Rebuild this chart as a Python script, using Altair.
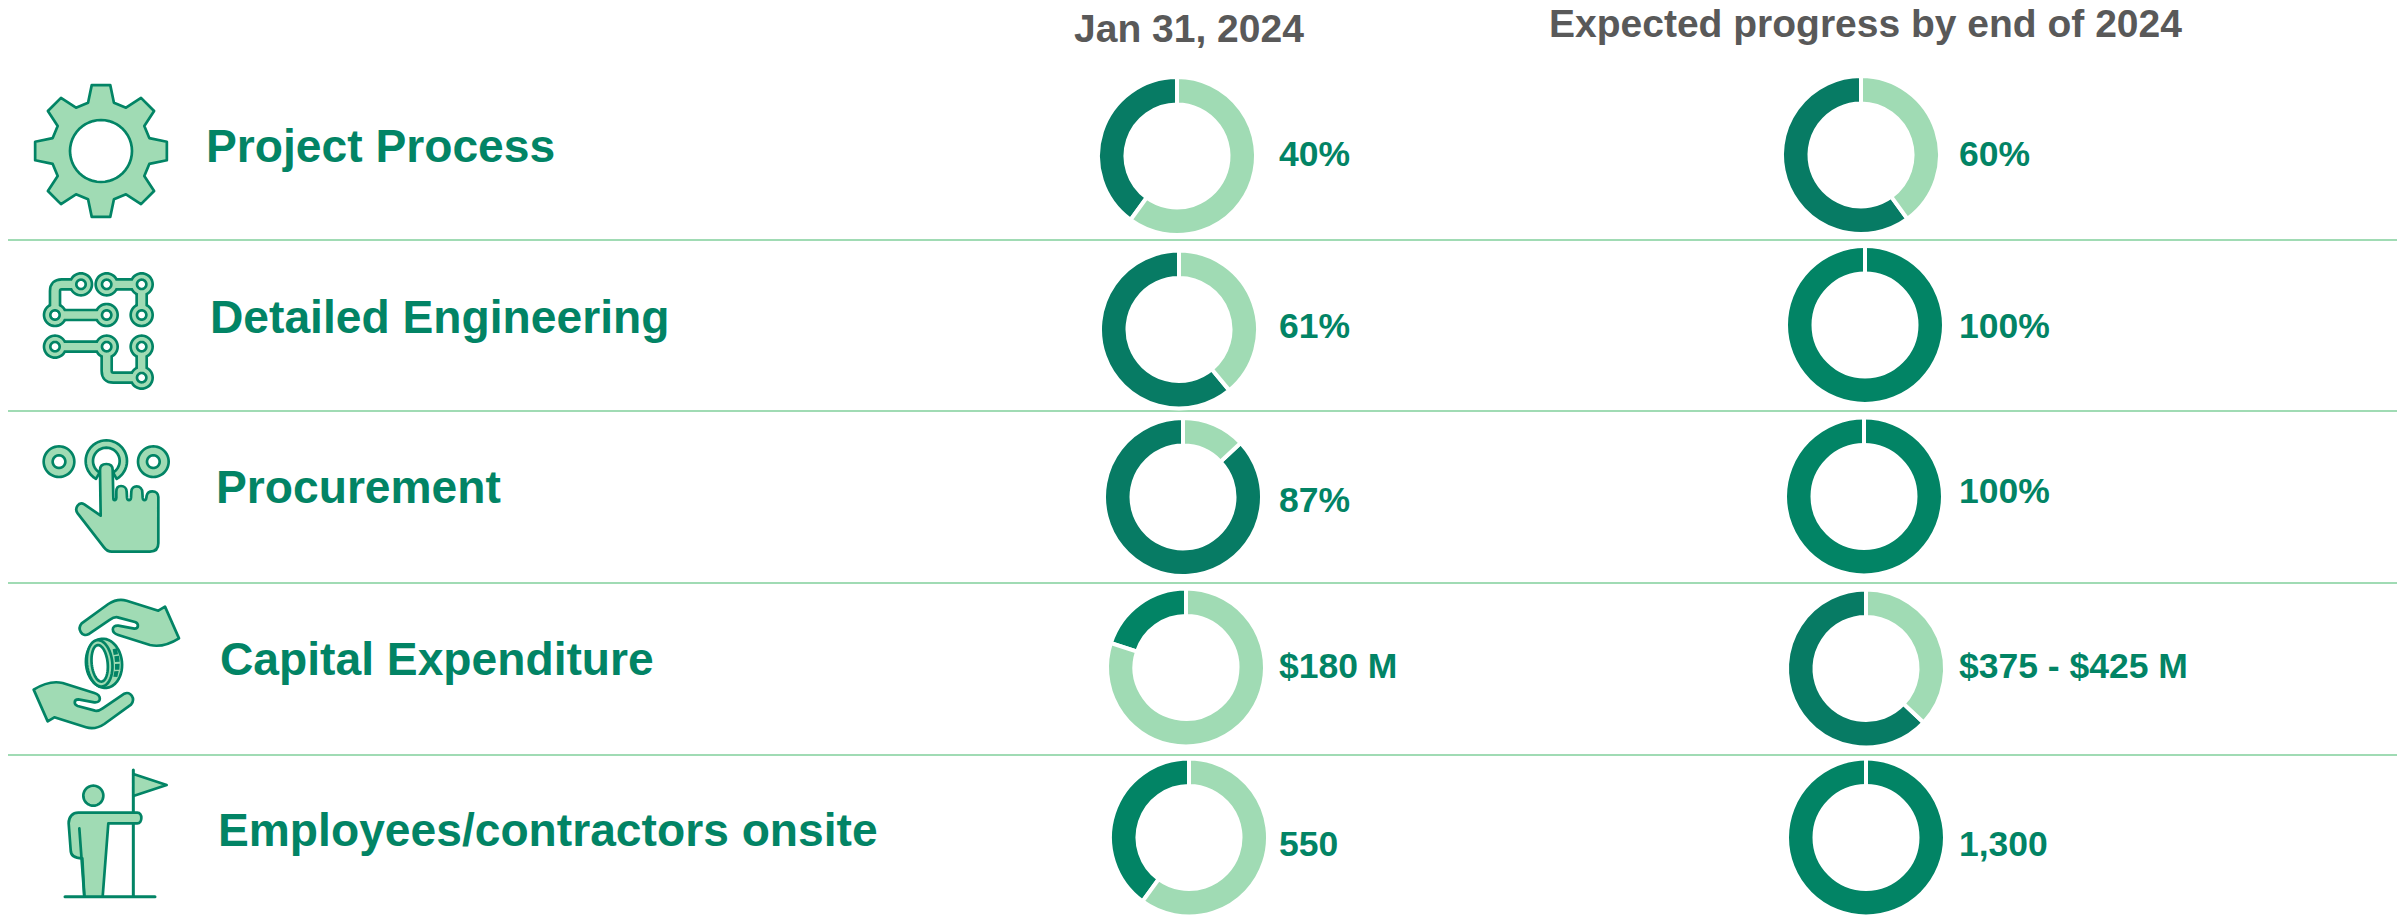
import re
import math
import altair as alt
import pandas as pd

# ---------- values ----------
rows = ["Project Process", "Detailed Engineering", "Procurement", "Capital Expenditure", "Employees/contractors onsite"]
jan_done = [40, 61, 87, 20, 40]
end_done = [60, 100, 100, 63, 100]
jan_tone = ["deep", "deep", "deep", "bright", "bright"]
end_tone = ["deep", "bright", "bright", "deep", "bright"]
jan_labels = ["40%", "61%", "87%", "$180 M", "550"]
end_labels = ["60%", "100%", "100%", "$375 - $425 M", "1,300"]
headers = ["Jan 31, 2024", "Expected progress by end of 2024"]

# ---------- layout (page pixels) ----------
W, H = 2389, 907
row_label_x = [206, 210, 216, 220, 218]
row_label_y = [162, 333, 503, 675, 846]
jan_cx = [1177, 1179, 1183, 1186, 1189]
jan_cy = [156, 329.5, 497, 667.5, 837.5]
end_cx = [1861, 1865, 1864, 1866, 1866]
end_cy = [155, 325, 496.5, 668.5, 837.5]
jan_label_x = [1279, 1279, 1279, 1279, 1279]
jan_label_y = [166, 338, 512, 678, 856]
end_label_x = [1959, 1959, 1959, 1959, 1959]
end_label_y = [166, 338, 503, 678, 856]
header_x = [1074, 1549]
header_y = [42, 36.5]
divider_y = [240, 411, 583, 755]

LIGHT, DARK, GREEN, GREY = "#A0DBB4", "#077B64", "#028465", "#595959"
FONT = "Liberation Sans"

xs = alt.Scale(domain=[8, 8 + W], range=[0, W])
ys = alt.Scale(domain=[8, 8 + H], range=[0, H])


# ---------- icon path helpers ----------
def P(ox, oy, s, k=3.0):
    """Map a path written in zoom-crop units to page pixels (x, y alternate)."""
    i = [0]

    def rep(m):
        v = float(m.group(0))
        r = (ox if i[0] % 2 == 0 else oy) + v / k
        i[0] += 1
        return f"{r:.2f}"

    return re.sub(r"-?\d+\.?\d*", rep, s)


def ell(cx, cy, rx, ry=None, tilt=0.0, rev=False):
    ry = rx if ry is None else ry
    n = 48
    t = math.radians(tilt)
    pts = []
    for j in range(n):
        a = 2 * math.pi * j / n * (-1 if rev else 1)
        px, py = rx * math.cos(a), ry * math.sin(a)
        pts.append((cx + px * math.cos(t) - py * math.sin(t), cy + px * math.sin(t) + py * math.cos(t)))
    return "M " + " L ".join(f"{a:.2f} {b:.2f}" for a, b in pts) + " Z"


def ring_arc(cx, cy, r0, r1, a0, a1):
    n = 40
    pts = []
    for j in range(n + 1):
        a = math.radians(a0 + (a1 - a0) * j / n)
        pts.append((cx + r1 * math.cos(a), cy + r1 * math.sin(a)))
    for j in range(n, -1, -1):
        a = math.radians(a0 + (a1 - a0) * j / n)
        pts.append((cx + r0 * math.cos(a), cy + r0 * math.sin(a)))
    return "M " + " L ".join(f"{a:.2f} {b:.2f}" for a, b in pts) + " Z"


def gear(cx, cy, rb, rt, rh):
    pts = []
    for k in range(8):
        c = -90 + 45 * k
        for off, r in ((-15, rb), (-8, rt), (8, rt), (15, rb)):
            a = math.radians(c + off)
            pts.append((cx + r * math.cos(a), cy + r * math.sin(a)))
    return "M " + " L ".join(f"{a:.2f} {b:.2f}" for a, b in pts) + " Z " + ell(cx, cy, rh, rev=True)


def icon(path, fill=None, stroke=None, sw=2.7):
    kw = dict(shape=path, size=4, opacity=1, strokeJoin="round", strokeCap="round")
    if fill:
        kw.update(filled=True, fill=fill)
    else:
        kw.update(filled=False, fill="transparent")
    if stroke:
        kw.update(stroke=stroke, strokeWidth=sw)
    else:
        kw.update(strokeWidth=0)
    return alt.Chart(pd.DataFrame({"i": [0]})).mark_point(**kw).encode(x=alt.value(-8), y=alt.value(-8))


icons = []
# gear
icons.append(icon(P(0, 0, gear(101, 151, 50, 66.5, 31), 1.0), LIGHT, GREEN))

# circuit
c_o = (35, 265)
c_nodes = [(138, 58), (215, 58), (320, 58), (60, 150), (215, 150), (320, 150), (60, 245), (215, 245), (320, 245), (320, 338)]
c_tr = ("M 138 58 L 80 58 Q 60 58 60 78 L 60 150 L 215 150 "
        "M 215 58 L 300 58 Q 320 58 320 78 L 320 150 "
        "M 60 245 L 195 245 Q 215 245 215 265 L 215 318 Q 215 338 235 338 L 320 338 "
        "M 320 245 L 320 338")


def nodes(r):
    return " ".join(ell(a, b, r) for a, b in c_nodes)


icons += [
    icon(P(*c_o, c_tr), None, GREEN, 12.7),
    icon(P(*c_o, nodes(37)), GREEN),
    icon(P(*c_o, c_tr), None, LIGHT, 7.4),
    icon(P(*c_o, nodes(29)), LIGHT),
    icon(P(*c_o, nodes(18)), GREEN),
    icon(P(*c_o, nodes(10)), "#FFFFFF"),
]

# pointing hand
h_o = (30, 425)
side = [(87, 110), (370, 110)]
hand = ("M 210 135 C 210 123 218 117 229 117 C 240 117 248 123 248 135 L 250 218 C 250 228 258 228 259 218 L 259 200 "
        "C 259 188 265 183 273 183 C 283 183 290 190 290 200 L 291 218 C 292 228 302 228 303 218 L 304 200 "
        "C 304 190 312 184 320 184 C 330 184 337 192 337 202 L 338 218 C 339 228 348 228 349 218 L 350 212 "
        "C 352 204 358 199 367 199 C 378 199 385 207 385 216 L 385 355 C 385 372 375 380 360 380 L 245 380 "
        "C 235 380 229 376 222 367 L 143 265 C 132 250 146 228 163 238 L 212 272 Z")
icons += [
    icon(P(*h_o, " ".join(ell(a, b, 50) for a, b in side)), GREEN),
    icon(P(*h_o, " ".join(ell(a, b, 42) for a, b in side)), LIGHT),
    icon(P(*h_o, " ".join(ell(a, b, 23) for a, b in side)), GREEN),
    icon(P(*h_o, " ".join(ell(a, b, 15) for a, b in side)), "#FFFFFF"),
    icon(P(*h_o, ring_arc(229, 108, 40, 62, 120, 420)), LIGHT, GREEN),
    icon(P(*h_o, hand), LIGHT, GREEN),
]

# hands and coin
m_o = (25, 590)
upper = ("M 420 50 L 462 145 C 430 165 405 172 375 165 L 280 135 C 258 128 258 105 280 107 L 328 116 "
         "C 342 116 342 100 330 96 L 278 82 C 268 80 262 84 255 89 L 190 133 C 172 142 155 118 170 100 "
         "L 250 42 C 268 30 285 26 305 32 L 400 62 Z")


def rotate180(s, sx=488, sy=444):
    i = [0]

    def rep(m):
        v = float(m.group(0))
        r = (sx if i[0] % 2 == 0 else sy) - v
        i[0] += 1
        return f"{r:.2f}"

    return re.sub(r"-?\d+\.?\d*", rep, s)


squares = ("M 263 178 L 276 175 L 279 193 L 266 195 Z M 268 199 L 282 197 L 284 215 L 270 216 Z "
           "M 270 222 L 284 221 L 283 239 L 270 239 Z M 268 244 L 281 243 L 277 261 L 265 260 Z")
icons += [
    icon(P(*m_o, upper), LIGHT, GREEN),
    icon(P(*m_o, rotate180(upper)), LIGHT, GREEN),
    icon(P(*m_o, ell(237, 220, 54, 74, -6)), LIGHT, GREEN),
    icon(P(*m_o, ell(224, 220, 38, 70, -6)), LIGHT, GREEN),
    icon(P(*m_o, ell(224, 220, 24, 55, -6)), "#FFFFFF", GREEN),
    icon(P(*m_o, squares), GREEN),
]

# person with flag
f_o = (50, 765)
body = ("M 103 395 L 97 280 C 75 280 62 272 62 255 L 56 175 C 56 155 68 143 85 143 L 262 143 "
        "C 278 143 278 175 262 175 L 175 175 L 158 395 Z")
icons += [
    icon(P(*f_o, "M 250 15 L 250 395 M 45 395 L 315 395"), None, GREEN, 3),
    icon(P(*f_o, "M 250 27 L 350 60 L 250 93 Z"), LIGHT, GREEN),
    icon(P(*f_o, ell(130, 92, 30)), LIGHT, GREEN),
    icon(P(*f_o, body), LIGHT, GREEN),
    icon(P(*f_o, "M 88 190 L 103 395"), None, GREEN),
]

# ---------- donuts ----------
rec = []
for done_list, tones, cxs, cys in ((jan_done, jan_tone, jan_cx, jan_cy), (end_done, end_tone, end_cx, end_cy)):
    for done, tone, cx, cy in zip(done_list, tones, cxs, cys):
        rest = 100 - done
        rec.append({"cx": cx, "cy": cy, "start": rest, "end": 100, "part": tone})
        rec.append({"cx": cx, "cy": cy, "start": 0, "end": rest, "part": "rest"})
donut_df = pd.DataFrame(rec)

donuts = alt.Chart(donut_df).mark_arc(outerRadius=79, innerRadius=51.5, stroke="white", strokeWidth=4).encode(
    x=alt.X("cx:Q", scale=xs, axis=None),
    y=alt.Y("cy:Q", scale=ys, axis=None),
    theta=alt.Theta("start:Q", scale=alt.Scale(domain=[0, 100], range=[0, 2 * math.pi])),
    theta2=alt.Theta2("end:Q"),
    color=alt.Color("part:N", scale=alt.Scale(domain=["deep", "bright", "rest"], range=[DARK, GREEN, LIGHT]), legend=None),
)

# ---------- dividers ----------
rules = alt.Chart(pd.DataFrame({"y": divider_y})).mark_rule(color=LIGHT, strokeWidth=2).encode(
    y=alt.Y("y:Q", scale=ys, axis=None), x=alt.value(0), x2=alt.value(W)
)


# ---------- text ----------
def texts(labels, tx, ty, size, color):
    d = pd.DataFrame({"t": labels, "x": tx, "y": ty})
    return alt.Chart(d).mark_text(font=FONT, fontWeight="bold", fontSize=size, align="left", baseline="alphabetic", color=color).encode(
        x=alt.X("x:Q", scale=xs, axis=None), y=alt.Y("y:Q", scale=ys, axis=None), text="t:N"
    )


layers = [
    rules,
    donuts,
    *icons,
    texts(rows, row_label_x, row_label_y, 46.2, GREEN),
    texts(jan_labels, jan_label_x, jan_label_y, 35.5, GREEN),
    texts(end_labels, end_label_x, end_label_y, 35.5, GREEN),
    texts(headers, header_x, header_y, 39, GREY),
]

chart = alt.layer(*layers).properties(
    width=W, height=H, padding=0, autosize=alt.AutoSizeParams(type="none"), background="white"
).configure_view(stroke=None)

chart.save("out.html", embed_options={"renderer": "svg", "actions": False})
